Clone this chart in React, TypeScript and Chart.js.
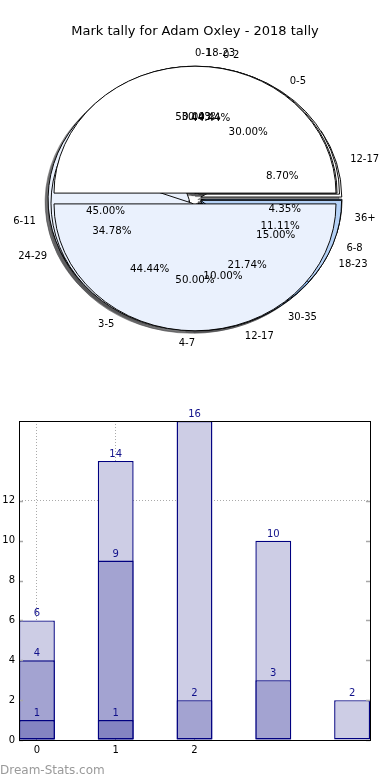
import React, { useEffect, useRef } from "react";
import { Chart, registerables } from "chart.js";

Chart.register(...registerables);

const TITLE = "Mark tally for Adam Oxley - 2018 tally";
const WATERMARK = "Dream-Stats.com";

// Overlaid pies (top-most first)
const PIE1_LABELS = ["0-1", "4-7"];
const PIE1_VALUES = [1, 1];
const PIE2_LABELS = ["0-2", "3-5", "6-8"];
const PIE2_VALUES = [4, 4, 1];
const PIE3_LABELS = ["0-5", "6-11", "12-17", "18-23"];
const PIE3_VALUES = [6, 9, 2, 3];
const PIE4_LABELS = ["12-17", "18-23", "24-29", "30-35", "36+"];
const PIE4_VALUES = [2, 7, 8, 5, 1];

// Bars (overlaid, drawn from largest to smallest)
const BAR_X = [0, 1, 2, 3, 4];
const BAR_LOW = [1, 1, 0, 0, 0];
const BAR_MID = [4, 9, 2, 3, 0];
const BAR_TOTAL = [6, 14, 16, 10, 2];
const X_TICK_LABELS = ["0", "1", "2"];
const Y_TICK_VALUES = [0, 2, 4, 6, 8, 10, 12];
const Y_GRID_VALUES = [12];

const PIE_LABEL_SETS = [PIE1_LABELS, PIE2_LABELS, PIE3_LABELS, PIE4_LABELS];
const PIE_VALUE_SETS = [PIE1_VALUES, PIE2_VALUES, PIE3_VALUES, PIE4_VALUES];

const SLICE_COLORS = ["#ffffff", "#eaf1fd", "#b4d1f6", "#88b6ef", "#5e9be8"];
const BAR_COLORS = ["#8484c2", "#a3a3d1", "#cdcde5"];
const FONT = '"DejaVu Sans", sans-serif';
const SY = 0.9;
const EXPLODE = 6;
const LABEL_DIST = 1.1;
const PCT_DIST = 0.6;
const BAR_WIDTH = 0.455;

Chart.defaults.font.family = FONT;

function ellipse(ctx: CanvasRenderingContext2D, cx: number, cy: number) {
  ctx.translate(cx, cy);
  ctx.scale(1, -SY);
  ctx.translate(-cx, -cy);
}

function centerOf(chart: any) {
  const a = chart.chartArea;
  return {
    cx: (a.left + a.right) / 2,
    cy: (a.top + a.bottom) / 2,
    R: Math.min(a.right - a.left, a.bottom - a.top) / 2,
  };
}

const pieOverlay = {
  id: "pieOverlay",
  afterDatasetsUpdate(chart: any) {
    const { cx, cy, R } = centerOf(chart);
    chart.data.datasets.forEach((_ds: any, i: number) => {
      const meta = chart.getDatasetMeta(i);
      meta.data.forEach((arc: any) => {
        const mid = (arc.startAngle + arc.endAngle) / 2;
        arc.x = cx + EXPLODE * Math.cos(mid);
        arc.y = cy + EXPLODE * Math.sin(mid);
        arc.innerRadius = 0;
        arc.outerRadius = R;
      });
    });
  },
  beforeDatasetsDraw(chart: any) {
    const ctx: CanvasRenderingContext2D = chart.ctx;
    const { cx, cy } = centerOf(chart);
    const metas = chart.getSortedVisibleDatasetMetas();
    const SHIFT = 1000;
    for (let i = metas.length - 1; i >= 0; i--) {
      metas[i].data.forEach((arc: any) => {
        ctx.save();
        ctx.shadowColor = "rgba(75,75,78,0.5)";
        ctx.shadowBlur = 0.5;
        ctx.shadowOffsetX = SHIFT - 3;
        ctx.shadowOffsetY = 2.5;
        ctx.translate(-SHIFT, 0);
        ellipse(ctx, cx, cy);
        arc.draw(ctx);
        ctx.restore();
      });
    }
    ctx.save();
    ellipse(ctx, cx, cy);
  },
  afterDatasetsDraw(chart: any) {
    const ctx: CanvasRenderingContext2D = chart.ctx;
    ctx.restore();
    const { cx, cy, R } = centerOf(chart);
    ctx.save();
    ctx.fillStyle = "#000";
    ctx.textBaseline = "middle";
    const metas = chart.getSortedVisibleDatasetMetas();
    for (let i = metas.length - 1; i >= 0; i--) {
      const meta = metas[i];
      const labels = PIE_LABEL_SETS[meta.index];
      const values = PIE_VALUE_SETS[meta.index];
      const total = values.reduce((s: number, v: number) => s + v, 0);
      meta.data.forEach((arc: any, j: number) => {
        const mid = (arc.startAngle + arc.endAngle) / 2;
        const c = Math.cos(mid);
        const s = Math.sin(mid);
        const ex = arc.x - cx;
        const ey = arc.y - cy;
        const dx = EXPLODE * c + LABEL_DIST * R * c;
        const lx = cx + ex + LABEL_DIST * R * c;
        const ly = cy - SY * (ey + LABEL_DIST * R * s);
        ctx.font = `10px ${FONT}`;
        ctx.textAlign = dx > 0 ? "left" : "right";
        ctx.fillText(labels[j], lx, ly);
        const px = cx + ex + PCT_DIST * R * c;
        const py = cy - SY * (ey + PCT_DIST * R * s);
        ctx.font = `10.3px ${FONT}`;
        ctx.textAlign = "center";
        ctx.fillText(((values[j] / total) * 100).toFixed(2) + "%", px, py);
      });
    }
    ctx.restore();
  },
};

const barDecor = {
  id: "barDecor",
  afterDatasetsDraw(chart: any) {
    const ctx: CanvasRenderingContext2D = chart.ctx;
    ctx.save();
    ctx.font = `10px ${FONT}`;
    ctx.fillStyle = "#10108a";
    ctx.textAlign = "center";
    ctx.textBaseline = "alphabetic";
    chart.data.datasets.forEach((ds: any, i: number) => {
      const meta = chart.getDatasetMeta(i);
      meta.data.forEach((el: any, j: number) => {
        const v = ds.data[j].y;
        if (v == null) return;
        ctx.fillText(String(v), el.x, el.y - 4);
      });
    });
    ctx.restore();
  },
  afterDraw(chart: any) {
    const ctx: CanvasRenderingContext2D = chart.ctx;
    const a = chart.chartArea;
    const ys = chart.scales.y;
    ctx.save();
    ctx.strokeStyle = "#a8a8a8";
    ctx.lineWidth = 1.5;
    Y_TICK_VALUES.forEach((v) => {
      const py = Math.round(ys.getPixelForValue(v)) + 0.5;
      ctx.beginPath();
      ctx.moveTo(a.left, py);
      ctx.lineTo(a.left + 4, py);
      ctx.moveTo(a.right - 4, py);
      ctx.lineTo(a.right, py);
      ctx.stroke();
    });
    ctx.strokeStyle = "#000";
    ctx.lineWidth = 1;
    const l = Math.round(a.left) + 0.5;
    const t = Math.round(a.top) + 0.5;
    const r = Math.round(a.right) + 0.5;
    const b = Math.round(a.bottom) + 0.5;
    ctx.strokeRect(l, t, r - l, b - t);
    ctx.restore();
  },
};

const toPoints = (vals: number[]) =>
  BAR_X.map((x, i) => ({ x, y: vals[i] > 0 ? vals[i] : null }));

export default function App() {
  const pieRef = useRef<HTMLCanvasElement>(null);
  const barRef = useRef<HTMLCanvasElement>(null);

  useEffect(() => {
    const pie = new Chart(pieRef.current as HTMLCanvasElement, {
      type: "pie",
      data: {
        labels: PIE4_LABELS,
        datasets: PIE_VALUE_SETS.map((vals) => ({
          data: vals,
          backgroundColor: SLICE_COLORS.slice(0, vals.length),
          borderColor: "#000",
          borderWidth: 1,
          clip: false,
        })) as any,
      },
      options: {
        animation: false,
        responsive: false,
        events: [],
        rotation: 90,
        layout: { padding: { left: 54, right: 54, top: 48.5, bottom: 51.5 } },
        plugins: { legend: { display: false }, tooltip: { enabled: false } },
      } as any,
      plugins: [pieOverlay as any],
    });

    const bar = new Chart(barRef.current as HTMLCanvasElement, {
      type: "bar",
      data: {
        datasets: [
          { label: "low", data: toPoints(BAR_LOW), backgroundColor: BAR_COLORS[0] },
          { label: "mid", data: toPoints(BAR_MID), backgroundColor: BAR_COLORS[1] },
          { label: "total", data: toPoints(BAR_TOTAL), backgroundColor: BAR_COLORS[2] },
        ] as any,
      },
      options: {
        animation: false,
        responsive: false,
        events: [],
        layout: { padding: { top: 21, right: 20, left: 0, bottom: 0 } },
        datasets: {
          bar: {
            grouped: false,
            categoryPercentage: 1,
            barPercentage: BAR_WIDTH,
            borderSkipped: false,
            borderWidth: 1.4,
            borderColor: "#000080",
          },
        },
        plugins: { legend: { display: false }, tooltip: { enabled: false } },
        scales: {
          x: {
            type: "linear",
            offset: false,
            min: -BAR_WIDTH / 2,
            max: BAR_X.length - 1 + BAR_WIDTH / 2,
            z: 1,
            afterBuildTicks: (s: any) => {
              s.ticks = X_TICK_LABELS.map((_l, i) => ({ value: i }));
            },
            afterFit: (s: any) => {
              s.height = 30;
            },
            ticks: {
              autoSkip: false,
              maxRotation: 0,
              padding: 4,
              color: "#000",
              font: { size: 10, family: FONT },
              callback: (v: any) => X_TICK_LABELS[v] ?? "",
            },
            grid: {
              offset: false,
              drawTicks: false,
              color: "rgba(100,100,100,0.55)",
              lineWidth: 1,
            },
            border: { display: false, dash: [1, 2] },
          },
          y: {
            type: "linear",
            min: 0,
            max: 16,
            z: 1,
            afterBuildTicks: (s: any) => {
              s.ticks = Y_TICK_VALUES.map((v) => ({ value: v }));
            },
            afterFit: (s: any) => {
              s.width = 19;
            },
            ticks: {
              padding: 4,
              color: "#000",
              font: { size: 10, family: FONT },
              callback: (v: any) => String(v),
            },
            grid: {
              drawTicks: false,
              lineWidth: 1,
              color: (c: any) =>
                c.tick && Y_GRID_VALUES.includes(c.tick.value)
                  ? "rgba(100,100,100,0.55)"
                  : "rgba(0,0,0,0)",
            },
            border: { display: false, dash: [1, 2] },
          },
        },
      } as any,
      plugins: [barDecor as any],
    });

    return () => {
      pie.destroy();
      bar.destroy();
    };
  }, []);

  return (
    <div
      style={{
        position: "fixed",
        left: 0,
        top: 0,
        width: 390,
        height: 780,
        background: "#fff",
        overflow: "hidden",
      }}
    >
      <canvas
        ref={pieRef}
        width={390}
        height={400}
        style={{ position: "absolute", left: 0, top: 0, width: 390, height: 400 }}
      />
      <canvas
        ref={barRef}
        width={390}
        height={370}
        style={{ position: "absolute", left: 0, top: 400, width: 390, height: 370 }}
      />
      <div
        style={{
          position: "absolute",
          left: 0,
          top: 23,
          width: 390,
          textAlign: "center",
          fontFamily: FONT,
          fontSize: 13,
          lineHeight: "15px",
          color: "#000",
          whiteSpace: "nowrap",
        }}
      >
        {TITLE}
      </div>
      <div
        style={{
          position: "absolute",
          left: 0,
          top: 763,
          fontFamily: FONT,
          fontSize: 12,
          lineHeight: "14px",
          color: "#9a9a9a",
          whiteSpace: "nowrap",
        }}
      >
        {WATERMARK}
      </div>
    </div>
  );
}
